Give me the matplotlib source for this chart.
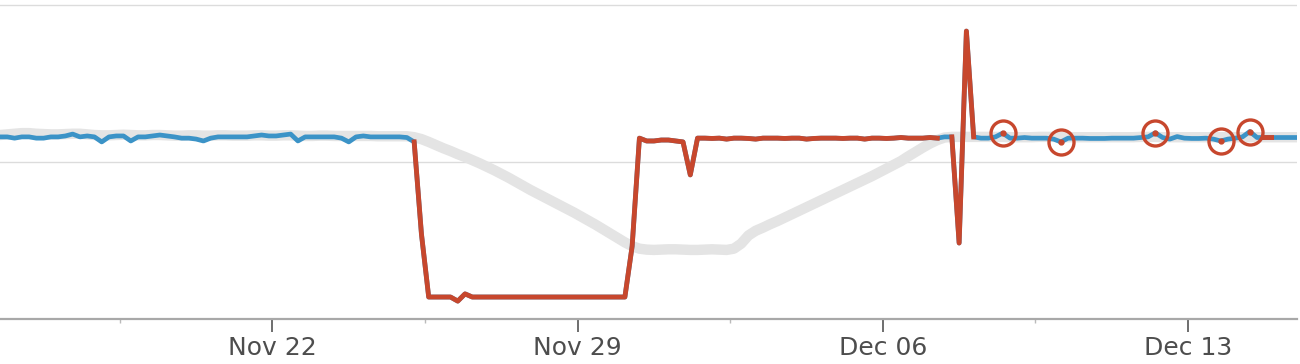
import matplotlib
matplotlib.use("Agg")
import matplotlib.pyplot as plt
import matplotlib.dates as mdates
import numpy as np
import pandas as pd

# 4-hourly samples starting Nov 15 2020 18:00
times = pd.date_range("2020-11-15 18:00", periods=180, freq="4h")

actual = [
    58.0, 58.0, 57.6, 58.0, 58.0, 57.6, 57.6, 58.0, 58.0, 58.3,
    58.9, 58.0, 58.3, 58.0, 56.4, 58.0, 58.3, 58.3, 56.7, 58.0,
    58.0, 58.3, 58.6, 58.3, 58.0, 57.6, 57.6, 57.3, 56.7, 57.6,
    58.0, 58.0, 58.0, 58.0, 58.0, 58.3, 58.6, 58.3, 58.3, 58.6,
    58.9, 56.7, 58.0, 58.0, 58.0, 58.0, 58.0, 57.6, 56.4, 58.0,
    58.3, 58.0, 58.0, 58.0, 58.0, 58.0, 57.8, 56.4, 27.1, 7.0,
    7.0, 7.0, 7.0, 5.7, 8.0, 7.0, 7.0, 7.0, 7.0, 7.0,
    7.0, 7.0, 7.0, 7.0, 7.0, 7.0, 7.0, 7.0, 7.0, 7.0,
    7.0, 7.0, 7.0, 7.0, 7.0, 7.0, 7.0, 23.2, 57.6, 56.7,
    56.7, 57.0, 57.0, 56.7, 56.4, 45.9, 57.6, 57.6, 57.5, 57.6,
    57.3, 57.6, 57.6, 57.5, 57.3, 57.6, 57.6, 57.6, 57.5, 57.6,
    57.6, 57.3, 57.5, 57.6, 57.6, 57.6, 57.5, 57.6, 57.6, 57.3,
    57.6, 57.6, 57.5, 57.6, 57.8, 57.6, 57.6, 57.6, 57.8, 57.6,
    58.0, 58.0, 24.2, 91.7, 58.0, 57.6, 57.6, 58.0, 59.2, 57.6,
    57.6, 57.8, 57.6, 57.6, 57.6, 57.3, 56.4, 57.6, 57.6, 57.6,
    57.5, 57.5, 57.5, 57.6, 57.6, 57.6, 57.6, 57.8, 58.0, 59.3,
    57.8, 57.3, 58.1, 57.6, 57.5, 57.5, 57.6, 57.3, 56.7, 57.3,
    57.6, 58.0, 59.7, 57.8, 57.8, 57.8, 57.8, 57.8, 57.8, 57.8,
]

expected = [
    58.6, 58.8, 59.0, 59.2, 59.2, 59.0, 58.9, 58.8, 58.8, 58.9,
    59.0, 59.0, 58.8, 58.6, 58.5, 58.5, 58.6, 58.7, 58.6, 58.5,
    58.5, 58.6, 58.6, 58.5, 58.4, 58.4, 58.5, 58.5, 58.4, 58.4,
    58.5, 58.5, 58.4, 58.4, 58.4, 58.5, 58.5, 58.4, 58.4, 58.5,
    58.5, 58.4, 58.3, 58.3, 58.4, 58.4, 58.3, 58.3, 58.3, 58.3,
    58.3, 58.3, 58.2, 58.2, 58.2, 58.2, 58.2, 57.9, 57.3, 56.4,
    55.4, 54.4, 53.5, 52.5, 51.6, 50.6, 49.6, 48.5, 47.4, 46.2,
    45.0, 43.7, 42.4, 41.1, 39.9, 38.7, 37.5, 36.3, 35.1, 33.9,
    32.6, 31.3, 30.0, 28.6, 27.2, 25.8, 24.4, 23.2, 22.4, 22.1,
    22.0, 22.1, 22.2, 22.2, 22.1, 22.0, 22.0, 22.1, 22.2, 22.1,
    22.0, 22.4, 24.0, 26.6, 28.1, 29.1, 30.2, 31.2, 32.3, 33.4,
    34.5, 35.6, 36.7, 37.8, 38.9, 40.0, 41.1, 42.2, 43.3, 44.4,
    45.5, 46.7, 47.9, 49.1, 50.3, 51.8, 53.2, 54.6, 55.9, 57.0,
    57.8, 58.0, 58.0, 58.0, 58.0, 58.0, 58.0, 58.0, 58.0, 57.9,
    57.9, 57.9, 57.9, 58.0, 58.0, 58.0, 57.9, 57.9, 57.9, 57.9,
    57.9, 57.9, 57.9, 57.9, 57.9, 57.9, 57.9, 58.0, 58.0, 58.0,
    57.9, 57.9, 57.9, 57.9, 57.9, 57.9, 57.9, 57.9, 57.9, 57.9,
    57.9, 57.9, 57.9, 57.9, 57.9, 57.9, 57.9, 57.9, 57.9, 57.9,
]

# anomalies: consecutive runs (index ranges) and single flagged points
anomaly_runs = [(57, 129), (131, 134), (174, 175)]
single_anomalies = [138, 146, 159, 168, 172]

major_ticks = ["2020-11-22", "2020-11-29", "2020-12-06", "2020-12-13"]
minor_ticks = ["2020-11-18 12:00", "2020-11-25 12:00", "2020-12-02 12:00", "2020-12-09 12:00"]

BLUE = "#3b93c7"
RED = "#c7472d"
GRAY = "#e4e4e4"

actual = np.array(actual)
red_y = np.full(len(actual), np.nan)
for a, b in anomaly_runs:
    red_y[a:b + 1] = actual[a:b + 1]

fig = plt.figure(figsize=(13, 3.64), dpi=100)
ax = fig.add_axes([0, 45 / 364, 1297 / 1300, 319 / 364])

ax.plot(times, expected, color=GRAY, lw=7.5, solid_capstyle="round", zorder=1)
ax.plot(times, actual, color=BLUE, lw=3.4, solid_joinstyle="round", zorder=3)
ax.plot(times, red_y, color=RED, lw=3.5, solid_joinstyle="round", zorder=4)

st = times[single_anomalies]
sv = actual[single_anomalies]
ax.plot(st, sv, "o", color=RED, ms=3.5, zorder=5)
ax.plot(st, sv, "o", ms=18, mfc="none", mec=RED, mew=2.4, zorder=6)

ax.set_xlim(pd.Timestamp("2020-11-15 18:00"), pd.Timestamp("2020-12-15 12:00"))
ax.set_ylim(0, 101.6)
ax.set_yticks([0, 50, 100])
ax.yaxis.grid(True, color="#dcdcdc", lw=1)
ax.set_axisbelow(True)
ax.tick_params(axis="y", left=False, labelleft=False)

ax.set_xticks(pd.to_datetime(major_ticks))
ax.set_xticks(pd.to_datetime(minor_ticks), minor=True)
ax.xaxis.set_major_formatter(mdates.DateFormatter("%b %d"))
ax.tick_params(axis="x", which="major", length=9, width=1.2, color="#555555",
               labelsize=18, labelcolor="#4d4d4d", pad=3)
ax.tick_params(axis="x", which="minor", length=3, width=1, color="#bbbbbb")

for s in ["left", "right", "top"]:
    ax.spines[s].set_visible(False)
ax.spines["bottom"].set_color("#a8a8a8")
ax.spines["bottom"].set_linewidth(1.6)

fig.savefig("out.png", dpi=100)
